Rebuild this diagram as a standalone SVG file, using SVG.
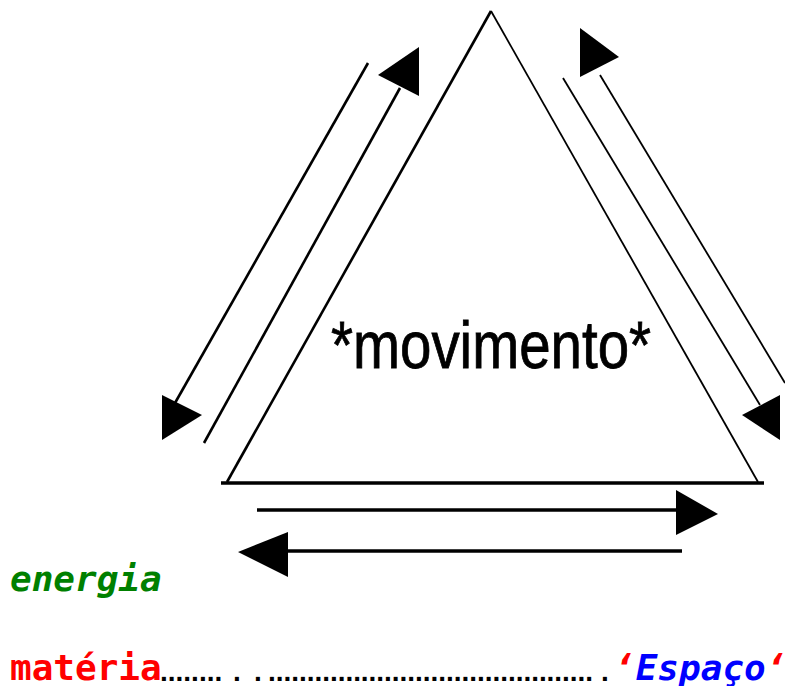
<svg xmlns="http://www.w3.org/2000/svg" width="785" height="686" viewBox="0 0 785 686">
<style>
.ln{stroke:#000;fill:none;stroke-linecap:butt}
.d{stroke-width:2.6}
.t{stroke-width:1.8}
.h{stroke-width:3.4}
.ah{fill:#000;stroke:none}
.mono{font-family:"DejaVu Sans Mono","Liberation Mono",monospace;font-weight:bold;font-size:36px}
.dots{font-family:"Liberation Sans",Arial,sans-serif;font-weight:bold;font-size:28px;fill:#000}
</style>
<rect width="785" height="686" fill="#fff"/>
<g id="triangle">
<line class="ln d" x1="491" y1="11" x2="227" y2="482"/>
<line class="ln t" x1="491" y1="11" x2="758" y2="482"/>
<line class="ln h" x1="221" y1="483" x2="764" y2="483"/>
</g>
<g id="movimento">
<text x="331" y="368" font-family="'Liberation Sans',Arial,sans-serif" font-size="66" textLength="320" lengthAdjust="spacingAndGlyphs" fill="#000" stroke="#000" stroke-width="0.8">*movimento*</text>
</g>
<g id="connectors">
<line class="ln d" x1="368" y1="63" x2="175" y2="403"/>
<polygon class="ah" points="162,395 162,440 202,415"/>
<line class="ln d" x1="400" y1="88" x2="204" y2="443"/>
<polygon class="ah" points="419,47 419,96 378,75"/>
<line class="ln t" x1="563" y1="78" x2="760" y2="405"/>
<polygon class="ah" points="780,395 780,440 742,415"/>
<line class="ln t" x1="600" y1="75" x2="785" y2="383"/>
<polygon class="ah" points="580,28 580,77 619,57"/>
<line class="ln h" x1="257" y1="510" x2="680" y2="510"/>
<polygon class="ah" points="676,490 676,535 718,514"/>
<line class="ln h" x1="286" y1="551" x2="682" y2="551"/>
<polygon class="ah" points="288,532 288,577 238,552"/>
</g>
<g id="energia">
<text class="mono" x="10" y="591" font-style="italic" fill="#008000">energia</text>
</g>
<g id="materia">
<text class="mono" x="10" y="680" fill="#ff0000">matéria</text>
<text class="dots" x="160" y="681">........</text>
<text class="dots" x="233" y="681">.</text>
<text class="dots" x="254" y="681">.</text>
<text class="dots" x="268" y="681" letter-spacing="-0.04">..........................................</text>
<text class="dots" x="601" y="681">.</text>
</g>
<g id="espaco">
<text class="mono" x="614" y="680" font-style="italic"><tspan fill="#ff0000">‘</tspan><tspan fill="#0000ff">Espaço</tspan><tspan fill="#ff0000">‘</tspan></text>
</g>
</svg>
